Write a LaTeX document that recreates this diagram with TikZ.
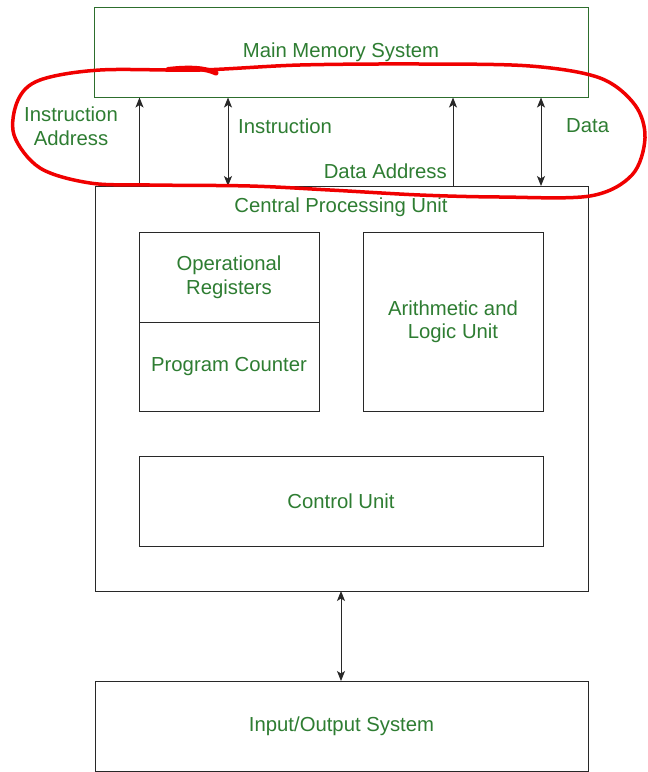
\documentclass[tikz,border=0pt]{standalone}
\usepackage{fontspec}
\setmainfont{Liberation Sans}
\usetikzlibrary{arrows.meta}
\definecolor{txtgreen}{RGB}{46,125,50}
\definecolor{boxgreen}{RGB}{45,110,45}
\definecolor{linegray}{RGB}{40,40,40}
\definecolor{hred}{RGB}{240,0,0}
\begin{document}
\begin{tikzpicture}[x=1pt,y=-1pt,
  lbl/.style={text=txtgreen,font=\fontsize{20.3}{23.5}\selectfont,align=center,inner sep=0pt},
  box/.style={draw=linegray,line width=1pt,inner sep=0pt,outer sep=0pt,text=txtgreen,font=\fontsize{20.3}{23.5}\selectfont,align=center},
  arr/.style={draw=linegray,line width=1pt,-{Stealth[length=10pt,width=8pt,inset=2.5pt]}},
  darr/.style={draw=linegray,line width=1pt,{Stealth[length=10pt,width=8pt,inset=2.5pt]}-{Stealth[length=10pt,width=8pt,inset=2.5pt]}}]
\useasboundingbox (0,0) rectangle (648,772);
\fill[white] (0,0) rectangle (648,772);
% boxes
\node[box,draw=boxgreen,minimum width=494,minimum height=90] (mem) at (341,52.5) {};
\node[lbl] (memt) at (341,52.5) {Main Memory System};
\node[box,minimum width=493,minimum height=405] (cpu) at (341.5,388.5) {};
\node[lbl] (cput) at (341,207.5) {Central Processing Unit};
\node[box,minimum width=180,minimum height=90] (opr) at (229,277) {Operational\\Registers};
\node[box,minimum width=180,minimum height=89] (pc) at (229,366.5) {Program Counter};
\node[box,minimum width=180,minimum height=179] (alu) at (453,321.5) {Arithmetic and\\Logic Unit};
\node[box,minimum width=404,minimum height=90] (cu) at (341,501) {Control Unit};
\node[box,minimum width=493,minimum height=90] (io) at (341.5,726) {Input/Output System};
% labels
\node[lbl] (ia) at (71,126) {Instruction\\Address};
\node[lbl,anchor=west] (ins) at (238,126) {Instruction};
\node[lbl,anchor=east] (da) at (447,171) {Data Address};
\node[lbl,anchor=west] (dat) at (566,126) {Data};
% connectors
\coordinate (x1) at (139.5,0);
\coordinate (x2) at (228,0);
\coordinate (x3) at (453,0);
\coordinate (x4) at (541,0);
\coordinate (x5) at (341,0);
\draw[arr] (cpu.north -| x1) -- (mem.south -| x1);
\draw[darr] (cpu.north -| x2) -- (mem.south -| x2);
\draw[arr] (cpu.north -| x3) -- (mem.south -| x3);
\draw[darr] (cpu.north -| x4) -- (mem.south -| x4);
\draw[darr] (cpu.south -| x5) -- (io.north -| x5);
% red hand-drawn loop
\draw[hred,line width=3.5pt,line cap=round,line join=round] plot[smooth cycle,tension=0.55] coordinates {
 (100,70) (200,70) (300,65) (420,64) (530,66) (600,78) (635,105) (645,138)
 (632,175) (590,196) (500,197) (420,195) (330,190) (250,186) (150,185)
 (90,183) (40,168) (14,135) (18,100) (40,80)};
\draw[hred,line width=5pt,line cap=round] (168,69.5) .. controls (190,67) and (205,68) .. (216,73);
\end{tikzpicture}
\end{document}
